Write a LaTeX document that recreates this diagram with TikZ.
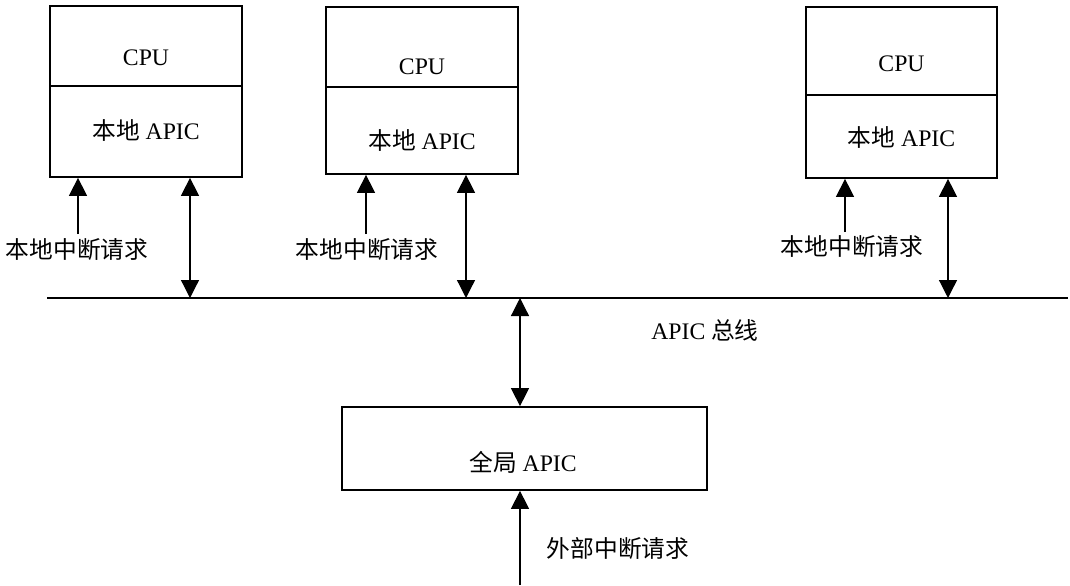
\documentclass[tikz,border=0pt]{standalone}
\usepackage{fontspec}
\setmainfont{Liberation Serif}
\newfontfamily\cjk{Noto Sans CJK SC}
\usetikzlibrary{arrows.meta}

\begin{document}
\begin{tikzpicture}[x=0.02cm, y=-0.02cm,
  every node/.style={font=\fontsize{13.5}{16}\selectfont},
  part/.style={draw, line width=1pt, minimum width=3.84cm, inner sep=0pt},
  req/.style={line width=0.7pt, -{Triangle[length=0.36cm, width=0.36cm]}},
  link/.style={line width=0.7pt, {Triangle[length=0.36cm, width=0.36cm]}-{Triangle[length=0.36cm, width=0.36cm]}}]

\useasboundingbox (0,0) rectangle (1070,585);

% Processor 1
\node[part, minimum height=1.6cm] (cpu1) at (146,46) {};
\node[part, minimum height=1.82cm] (apic1) at (146,131.5) {};
\node (tcpu1) at (146,58) {CPU};
\node (tapic1) at (146,130) {{\cjk 本地} APIC};

% Processor 2
\node[part, minimum height=1.6cm] (cpu2) at (422,47) {};
\node[part, minimum height=1.74cm] (apic2) at (422,130.5) {};
\node (tcpu2) at (422,67) {CPU};
\node (tapic2) at (422,140) {{\cjk 本地} APIC};

% Processor 3
\node[part, minimum width=3.82cm, minimum height=1.76cm] (cpu3) at (901.5,51) {};
\node[part, minimum width=3.82cm, minimum height=1.66cm] (apic3) at (901.5,136.5) {};
\node (tcpu3) at (901.5,64) {CPU};
\node (tapic3) at (901.5,137) {{\cjk 本地} APIC};

% APIC bus
\coordinate (busL) at (47,298);
\coordinate (busR) at (1068,298);
\draw[line width=1.6pt] (busL) -- (busR);
\node (tbus) at (705,330) {APIC {\cjk 总线}};

\coordinate (b1) at (190,298);
\coordinate (b2) at (466,298);
\coordinate (b3) at (948,298);
\coordinate (b0) at (520,298);

% Local interrupt requests
\node (lreq1) at (77,250) {\cjk 本地中断请求};
\node (lreq2) at (367,250) {\cjk 本地中断请求};
\node (lreq3) at (852,247) {\cjk 本地中断请求};
\coordinate (r1) at (78,234);
\coordinate (r2) at (366,234);
\coordinate (r3) at (845,232);
\draw[req] (r1) -- (r1 |- apic1.south);
\draw[req] (r2) -- (r2 |- apic2.south);
\draw[req] (r3) -- (r3 |- apic3.south);

% Links to the bus
\draw[link] (apic1.south -| b1) -- (b1);
\draw[link] (apic2.south -| b2) -- (b2);
\draw[link] (apic3.south -| b3) -- (b3);

% Global APIC
\node[part, minimum width=7.3cm, minimum height=1.66cm] (glob) at (524.5,448.5) {};
\node (tglob) at (523,462) {{\cjk 全局} APIC};
\draw[link] (b0) -- (b0 |- glob.north);

% External interrupt request
\coordinate (ext) at (520,585);
\draw[req] (ext) -- (ext |- glob.south);
\node (lext) at (618,548) {\cjk 外部中断请求};

\end{tikzpicture}
\end{document}
